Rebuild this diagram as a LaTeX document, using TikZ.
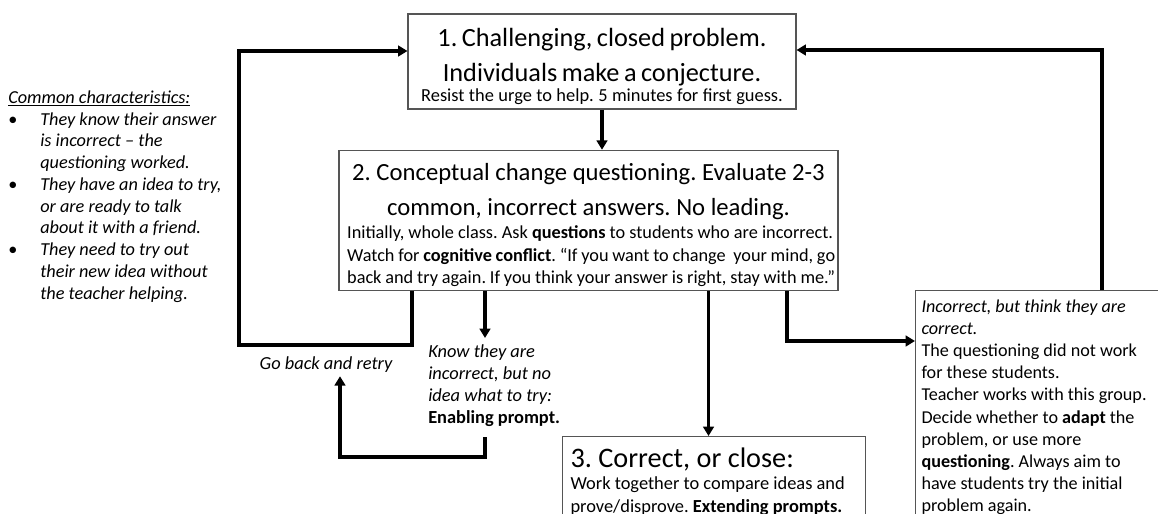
\documentclass[tikz,border=0pt]{standalone}
\usepackage{fontspec}
\setmainfont{Carlito}
\usepackage{tikz}
\usetikzlibrary{arrows.meta, positioning, calc}
\definecolor{boxgray}{RGB}{85,85,85}
\newcommand{\titlesize}{\fontsize{19.7}{26.3}\selectfont}
\newcommand{\bodysize}{\fontsize{13.8}{16.8}\selectfont}
\newcommand{\sidesize}{\fontsize{13.7}{16.3}\selectfont}
\tikzset{
  >=Triangle,
  % stage boxes
  stage/.style={draw=boxgray,line width=0.8pt,inner xsep=6pt,inner ysep=3pt},
  % thick arrows between stages
  flow/.style={-{Triangle[length=7pt,width=8pt]},line width=2.3pt,black},
  % free italic labels
  note/.style={inner sep=0pt,align=flush left,font=\itshape\bodysize}
}

\begin{document}
\frenchspacing
\begin{tikzpicture}[x=0.75pt,y=-0.75pt]
  \useasboundingbox (0,0) rectangle (1158,514);
  \clip (0,0) rectangle (1158,514);
  \node[stage,minimum width=291pt,minimum height=71.25pt,text width=279pt,align=center] (box1) at (602,61.5)
    {{\titlesize\rule{0pt}{21pt}1. Challenging, closed problem.\\ Individuals make a conjecture.\par}
     {\fontsize{13.8}{15}\selectfont Resist the urge to help. 5 minutes for first guess.\par}};
  \node[stage,inner xsep=2pt,minimum width=374.25pt,minimum height=104.25pt,text width=370pt,align=flush left] (box2) at (588.5,220.5)
    {{\fontsize{18.5}{26.3}\selectfont\centering\rule{0pt}{20pt}2. Conceptual change questioning. Evaluate 2-3\\ common, incorrect answers. No leading.\par}
     {\fontsize{13.7}{16.9}\selectfont\hspace*{4pt}Initially, whole class. Ask \textbf{questions} to students who are incorrect.\\
      \hspace*{4pt}Watch for \textbf{cognitive conflict}. “If you want to change\ \ your mind, go\\
      \hspace*{4pt}back and try again. If you think your answer is right, stay with me.”\par}};
  \node[stage,anchor=north west,inner ysep=8.5pt,text width=215pt,align=flush left] (box3) at (562,436)
    {{\fontsize{21.2}{26}\selectfont 3. Correct, or close:\par}
     {\bodysize Work together to compare ideas and\\ prove/disprove. \textbf{Extending prompts.}\par}
     \vspace{20pt}};
  \node[stage,anchor=north west,inner xsep=4.5pt,inner ysep=7pt,text width=250pt,align=flush left,
        font=\fontsize{13.6}{16.6}\selectfont] (box4) at (915,290)
    {{\itshape Incorrect, but think they are\\ correct.}\\
     The questioning did not work\\ for these students.\\
     Teacher works with this group.\\
     Decide whether to \textbf{adapt} the\\ problem, or use more\\
     \textbf{questioning}. Always aim to\\ have students try the initial\\
     problem again.\\[20pt]};
  \node[note,anchor=north west,font=\itshape\fontsize{13.8}{16.5}\selectfont] (know) at (428,344)
    {Know they are\\ incorrect, but no\\ idea what to try:\\ \textbf{\upshape Enabling prompt.}};
  \node[note,anchor=base,inner sep=3pt] (goback) at (326,369) {Go back and retry};
  \node[anchor=north west,inner sep=0pt,font=\itshape\sidesize] (traits) at (8,88)
    {\begin{tabular}{@{}p{24pt}@{}l@{}}
      \multicolumn{2}{@{}l@{}}{\underline{Common characteristics:}}\\
      \upshape\textbullet & They know their answer\\
      & is incorrect – the\\
      & questioning worked.\\
      \upshape\textbullet & They have an idea to try,\\
      & or are ready to talk\\
      & about it with a friend.\\
      \upshape\textbullet & They need to try out\\
      & their new idea without\\
      & the teacher helping.
    \end{tabular}};

  \coordinate (retry bottom) at (412,345);
  \coordinate (retry corner) at (239,51);
  \coordinate (know arrow) at (485,338);
  \coordinate (know out) at (485,437);
  \coordinate (enable corner) at (340,457);
  \coordinate (wrong corner) at (787,341);
  \coordinate (back corner) at (1102,50);
  \coordinate (correct in) at ([xshift=-4pt]box3.north);

  \draw[flow] (box1.south) -- (box1.south |- box2.north);
  \draw[flow] (box2.south -| retry bottom) -- (retry bottom) -| (retry corner) -- (box1.west |- retry corner);
  \draw[flow] (box2.south -| know arrow) -- (know arrow);
  \draw[flow] (know out) |- (enable corner) -- (goback.south -| enable corner);
  \draw[flow] (box2.south -| correct in) -- (correct in);
  \draw[flow] (box2.south -| wrong corner) -- (wrong corner) -- (box4.west |- wrong corner);
  \draw[flow] (box4.north -| back corner) -- (back corner) -- (box1.east |- back corner);
\end{tikzpicture}
\end{document}
